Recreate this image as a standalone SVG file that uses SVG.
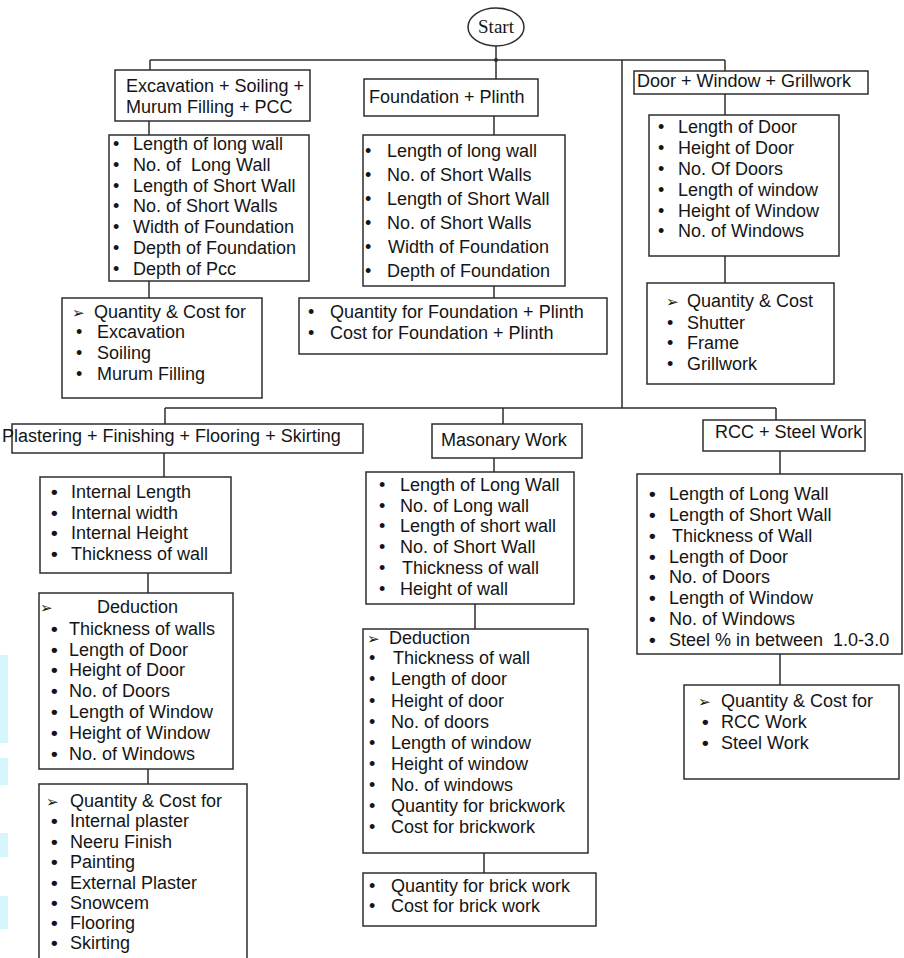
<svg xmlns="http://www.w3.org/2000/svg" width="904" height="958" viewBox="0 0 904 958">
<style>
.bg{fill:#ffffff}
.box{fill:#ffffff;stroke:#2e2e2e;stroke-width:1.5}
.ln{stroke:#2e2e2e;stroke-width:1.5;fill:none}
.t{font-family:"Liberation Sans",Arial,sans-serif;font-size:18px;fill:#151515;white-space:pre}
.b{font-family:"Liberation Sans",Arial,sans-serif;font-size:18px;fill:#151515}
.bb{font-family:"Liberation Sans",Arial,sans-serif;font-size:19px;font-weight:bold;fill:#151515}
.ar{font-family:"DejaVu Sans",sans-serif;font-size:15px;fill:#151515}
.st{font-family:"Liberation Serif","Times New Roman",serif;font-size:19px;fill:#151515}
.cy{fill:#d6f6fd}
</style>
<rect class="bg" x="0" y="0" width="904" height="958"/>
<g id="artifacts">
<rect class="cy" x="0" y="655" width="8" height="88"/>
<rect class="cy" x="0" y="758" width="8" height="27"/>
<rect class="cy" x="0" y="833" width="8" height="24"/>
<rect class="cy" x="0" y="896" width="8" height="33"/>
</g>
<g id="connectors">
<line class="ln" x1="496" y1="46" x2="496" y2="60"/>
<line class="ln" x1="150" y1="60" x2="725" y2="60"/>
<line class="ln" x1="150" y1="60" x2="150" y2="70"/>
<line class="ln" x1="496" y1="60" x2="496" y2="79"/>
<line class="ln" x1="725" y1="60" x2="725" y2="71"/>
<line class="ln" x1="622" y1="60" x2="622" y2="408"/>
<circle cx="496" cy="60" r="2" fill="#2e2e2e"/>
<line class="ln" x1="149" y1="121" x2="149" y2="135"/>
<line class="ln" x1="149" y1="281" x2="149" y2="298"/>
<line class="ln" x1="494" y1="116" x2="494" y2="135"/>
<line class="ln" x1="494" y1="286" x2="494" y2="298"/>
<line class="ln" x1="725" y1="94" x2="725" y2="115"/>
<line class="ln" x1="725" y1="256" x2="725" y2="283"/>
<line class="ln" x1="165" y1="408" x2="776" y2="408"/>
<line class="ln" x1="165" y1="408" x2="165" y2="424"/>
<line class="ln" x1="503" y1="408" x2="503" y2="424"/>
<line class="ln" x1="776" y1="408" x2="776" y2="420"/>
<line class="ln" x1="164" y1="453" x2="164" y2="477"/>
<line class="ln" x1="148" y1="573" x2="148" y2="593"/>
<line class="ln" x1="148" y1="769" x2="148" y2="784"/>
<line class="ln" x1="494" y1="458" x2="494" y2="472"/>
<line class="ln" x1="475" y1="604" x2="475" y2="629"/>
<line class="ln" x1="484" y1="853" x2="484" y2="873"/>
<line class="ln" x1="780" y1="451" x2="780" y2="474"/>
<line class="ln" x1="780" y1="654" x2="780" y2="685"/>
</g>
<g id="start">
<ellipse class="box" cx="496" cy="27" rx="28" ry="19"/>
<text class="st" x="496" y="33" text-anchor="middle">Start</text>
</g>
<g id="excavation">
<rect class="box" x="115" y="70" width="195" height="51"/>
<text class="t" x="126" y="92">Excavation + Soiling +</text>
<text class="t" x="126" y="113">Murum Filling + PCC</text>
</g>
<g id="excavation-inputs">
<rect class="box" x="109" y="135" width="200" height="146"/>
<text class="b" x="113" y="150">•</text><text class="t" x="133" y="150">Length of long wall</text>
<text class="b" x="113" y="171">•</text><text class="t" x="133" y="171">No. of  Long Wall</text>
<text class="b" x="113" y="192">•</text><text class="t" x="133" y="192">Length of Short Wall</text>
<text class="b" x="113" y="212">•</text><text class="t" x="133" y="212">No. of Short Walls</text>
<text class="b" x="113" y="233">•</text><text class="t" x="133" y="233">Width of Foundation</text>
<text class="b" x="113" y="254">•</text><text class="t" x="133" y="254">Depth of Foundation</text>
<text class="b" x="113" y="275">•</text><text class="t" x="133" y="275">Depth of Pcc</text>
</g>
<g id="excavation-output">
<rect class="box" x="62" y="298" width="200" height="100"/>
<text class="ar" x="72" y="318">➢</text><text class="t" x="94" y="318">Quantity &amp; Cost for</text>
<text class="b" x="76" y="338">•</text><text class="t" x="97" y="338">Excavation</text>
<text class="b" x="76" y="359">•</text><text class="t" x="97" y="359">Soiling</text>
<text class="b" x="76" y="380">•</text><text class="t" x="97" y="380">Murum Filling</text>
</g>
<g id="foundation">
<rect class="box" x="364" y="79" width="174" height="37"/>
<text class="t" x="369" y="103">Foundation + Plinth</text>
</g>
<g id="foundation-inputs">
<rect class="box" x="363" y="135" width="202" height="151"/>
<text class="b" x="365" y="157">•</text><text class="t" x="387" y="157">Length of long wall</text>
<text class="b" x="365" y="181">•</text><text class="t" x="387" y="181">No. of Short Walls</text>
<text class="b" x="365" y="205">•</text><text class="t" x="387" y="205">Length of Short Wall</text>
<text class="b" x="365" y="229">•</text><text class="t" x="387" y="229">No. of Short Walls</text>
<text class="b" x="365" y="253">•</text><text class="t" x="388" y="253">Width of Foundation</text>
<text class="b" x="365" y="277">•</text><text class="t" x="387" y="277">Depth of Foundation</text>
</g>
<g id="foundation-output">
<rect class="box" x="299" y="298" width="308" height="56"/>
<text class="b" x="308" y="318">•</text><text class="t" x="330" y="318">Quantity for Foundation + Plinth</text>
<text class="b" x="308" y="339">•</text><text class="t" x="330" y="339">Cost for Foundation + Plinth</text>
</g>
<g id="door-window">
<rect class="box" x="634" y="71" width="234" height="23"/>
<text class="t" x="637" y="87">Door + Window + Grillwork</text>
</g>
<g id="door-inputs">
<rect class="box" x="649" y="115" width="190" height="141"/>
<text class="b" x="658" y="133">•</text><text class="t" x="678" y="133">Length of Door</text>
<text class="b" x="658" y="154">•</text><text class="t" x="678" y="154">Height of Door</text>
<text class="b" x="658" y="175">•</text><text class="t" x="678" y="175">No. Of Doors</text>
<text class="b" x="658" y="196">•</text><text class="t" x="678" y="196">Length of window</text>
<text class="b" x="658" y="217">•</text><text class="t" x="678" y="217">Height of Window</text>
<text class="b" x="658" y="237">•</text><text class="t" x="678" y="237">No. of Windows</text>
</g>
<g id="door-output">
<rect class="box" x="647" y="283" width="187" height="101"/>
<text class="ar" x="666" y="307">➢</text><text class="t" x="687" y="307">Quantity &amp; Cost</text>
<text class="b" x="667" y="329">•</text><text class="t" x="687" y="329">Shutter</text>
<text class="b" x="667" y="349">•</text><text class="t" x="687" y="349">Frame</text>
<text class="b" x="667" y="370">•</text><text class="t" x="687" y="370">Grillwork</text>
</g>
<g id="plastering">
<rect class="box" x="12" y="424" width="351" height="29"/>
<text class="t" x="2" y="442">Plastering + Finishing + Flooring + Skirting</text>
</g>
<g id="plastering-inputs">
<rect class="box" x="40" y="477" width="191" height="96"/>
<text class="bb" x="51" y="498">•</text><text class="t" x="71" y="498">Internal Length</text>
<text class="bb" x="51" y="519">•</text><text class="t" x="71" y="519">Internal width</text>
<text class="bb" x="51" y="539">•</text><text class="t" x="71" y="539">Internal Height</text>
<text class="bb" x="51" y="560">•</text><text class="t" x="71" y="560">Thickness of wall</text>
</g>
<g id="plastering-deduction">
<rect class="box" x="39" y="593" width="194" height="176"/>
<text class="ar" x="40" y="613">➢</text><text class="t" x="97" y="613">Deduction</text>
<text class="bb" x="51" y="635">•</text><text class="t" x="69" y="635">Thickness of walls</text>
<text class="bb" x="51" y="656">•</text><text class="t" x="69" y="656">Length of Door</text>
<text class="bb" x="51" y="676">•</text><text class="t" x="69" y="676">Height of Door</text>
<text class="bb" x="51" y="697">•</text><text class="t" x="69" y="697">No. of Doors</text>
<text class="bb" x="51" y="718">•</text><text class="t" x="69" y="718">Length of Window</text>
<text class="bb" x="51" y="739">•</text><text class="t" x="69" y="739">Height of Window</text>
<text class="bb" x="51" y="760">•</text><text class="t" x="69" y="760">No. of Windows</text>
</g>
<g id="plastering-output">
<rect class="box" x="39" y="784" width="208" height="182"/>
<text class="ar" x="46" y="807">➢</text><text class="t" x="70" y="807">Quantity &amp; Cost for</text>
<text class="bb" x="51" y="827">•</text><text class="t" x="70" y="827">Internal plaster</text>
<text class="bb" x="51" y="848">•</text><text class="t" x="70" y="848">Neeru Finish</text>
<text class="bb" x="51" y="868">•</text><text class="t" x="70" y="868">Painting</text>
<text class="bb" x="51" y="889">•</text><text class="t" x="70" y="889">External Plaster</text>
<text class="bb" x="51" y="909">•</text><text class="t" x="70" y="909">Snowcem</text>
<text class="bb" x="51" y="929">•</text><text class="t" x="70" y="929">Flooring</text>
<text class="bb" x="51" y="949">•</text><text class="t" x="70" y="949">Skirting</text>
</g>
<g id="masonary">
<rect class="box" x="432" y="424" width="150" height="34"/>
<text class="t" x="441" y="446">Masonary Work</text>
</g>
<g id="masonary-inputs">
<rect class="box" x="366" y="472" width="208" height="132"/>
<text class="b" x="379" y="491">•</text><text class="t" x="400" y="491">Length of Long Wall</text>
<text class="b" x="379" y="512">•</text><text class="t" x="400" y="512">No. of Long wall</text>
<text class="b" x="379" y="532">•</text><text class="t" x="400" y="532">Length of short wall</text>
<text class="b" x="379" y="553">•</text><text class="t" x="400" y="553">No. of Short Wall</text>
<text class="b" x="379" y="574">•</text><text class="t" x="402" y="574">Thickness of wall</text>
<text class="b" x="379" y="595">•</text><text class="t" x="400" y="595">Height of wall</text>
</g>
<g id="masonary-deduction">
<rect class="box" x="363" y="629" width="225" height="224"/>
<text class="ar" x="367" y="644">➢</text><text class="t" x="389" y="644">Deduction</text>
<text class="b" x="369" y="664">•</text><text class="t" x="393" y="664">Thickness of wall</text>
<text class="b" x="369" y="685">•</text><text class="t" x="391" y="685">Length of door</text>
<text class="b" x="369" y="707">•</text><text class="t" x="391" y="707">Height of door</text>
<text class="b" x="369" y="728">•</text><text class="t" x="391" y="728">No. of doors</text>
<text class="b" x="369" y="749">•</text><text class="t" x="391" y="749">Length of window</text>
<text class="b" x="369" y="770">•</text><text class="t" x="391" y="770">Height of window</text>
<text class="b" x="369" y="791">•</text><text class="t" x="391" y="791">No. of windows</text>
<text class="b" x="369" y="812">•</text><text class="t" x="391" y="812">Quantity for brickwork</text>
<text class="b" x="369" y="833">•</text><text class="t" x="391" y="833">Cost for brickwork</text>
</g>
<g id="masonary-output">
<rect class="box" x="363" y="873" width="233" height="53"/>
<text class="b" x="369" y="892">•</text><text class="t" x="391" y="892">Quantity for brick work</text>
<text class="b" x="369" y="912">•</text><text class="t" x="391" y="912">Cost for brick work</text>
</g>
<g id="rcc">
<rect class="box" x="703" y="420" width="162" height="31"/>
<text class="t" x="715" y="438">RCC + Steel Work</text>
</g>
<g id="rcc-inputs">
<rect class="box" x="637" y="474" width="265" height="180"/>
<text class="bb" x="649" y="500">•</text><text class="t" x="669" y="500">Length of Long Wall</text>
<text class="bb" x="649" y="521">•</text><text class="t" x="669" y="521">Length of Short Wall</text>
<text class="bb" x="649" y="542">•</text><text class="t" x="672" y="542">Thickness of Wall</text>
<text class="bb" x="649" y="563">•</text><text class="t" x="669" y="563">Length of Door</text>
<text class="bb" x="649" y="583">•</text><text class="t" x="669" y="583">No. of Doors</text>
<text class="bb" x="649" y="604">•</text><text class="t" x="669" y="604">Length of Window</text>
<text class="bb" x="649" y="625">•</text><text class="t" x="669" y="625">No. of Windows</text>
<text class="bb" x="649" y="646">•</text><text class="t" x="669" y="646">Steel % in between  1.0-3.0</text>
</g>
<g id="rcc-output">
<rect class="box" x="684" y="685" width="215" height="94"/>
<text class="ar" x="698" y="707">➢</text><text class="t" x="721" y="707">Quantity &amp; Cost for</text>
<text class="bb" x="702" y="728">•</text><text class="t" x="721" y="728">RCC Work</text>
<text class="bb" x="702" y="749">•</text><text class="t" x="721" y="749">Steel Work</text>
</g>
</svg>
